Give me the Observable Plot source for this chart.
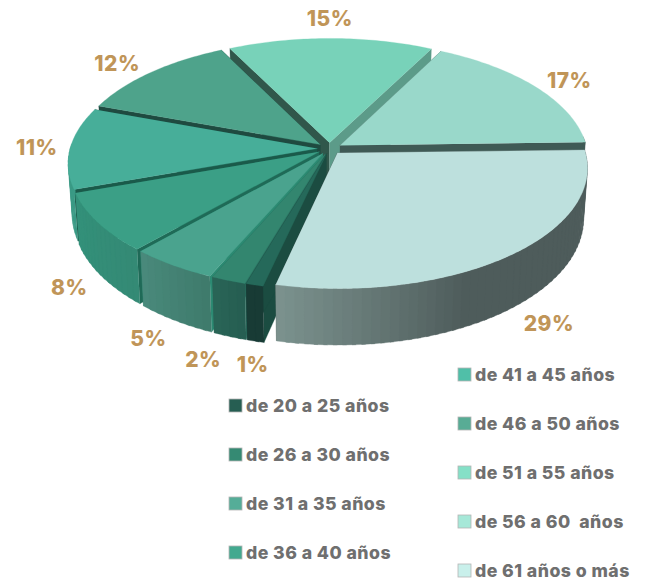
<!DOCTYPE html>
<html><head><meta charset="utf-8">
<script src="https://cdn.jsdelivr.net/npm/d3@7"></script>
<script src="https://cdn.jsdelivr.net/npm/@observablehq/plot@0.6"></script>
<style>html,body{margin:0;padding:0;background:#fff}svg{display:block}svg text{letter-spacing:.45px}</style>
</head><body><div id="chart"></div>
<script>
const ageGroups = ["de 20 a 25 años","de 26 a 30 años","de 31 a 35 años","de 36 a 40 años","de 41 a 45 años","de 46 a 50 años","de 51 a 55 años","de 56 a 60  años","de 61 años o más"];
const shares = [1,2,5,8,11,12,15,17,29];
const legendColors = ["#265e52","#358a73","#55ad98","#43a98f","#50bfa8","#58ac95","#85e0c7","#a6e8d8","#c9f0eb"];
const topColors = ["#25695a","#33866f","#4aa38e","#3b9f86","#47ae99","#4ea38b","#78d2b9","#99d8ca","#bde0dd"];
const cutColors = ["#1b4c41","#2a6e5e","#2c8a72","#1f6a57","#1a5a4a","#1f4a40","#30574b","#3f5a55","#4e5c5b"];
const wallLeft  = ["#183b35","#2a6657","#4a8b7d","#33917a","#3a9a85","#3a9a85","#3a9a85","#3f5a55","#7d9490"];
const wallRight = ["#183b35","#265e52","#3f7b6c","#348a75","#3a9a85","#3a9a85","#3a9a85","#3f5a55","#4e5c5b"];

// layout of the tilted pie
const W = 651, H = 582, cx = 329, cy = 148, Rx = 247, Ry = 118, persp = 0.12, depth = 49.5, explode = 0.05, startDeg = -1.5;
const rad = Math.PI / 180;
function top3d(X, Y) { const w = 1 / (1 - persp * Y); return [cx + Rx * X * w, cy + Ry * Y * w, w]; }
function bot3d(X, Y) { const [x, y, w] = top3d(X, Y); return [cx + (x - cx) * 0.985, y + depth * w]; }

// slices run clockwise from the largest group, then youngest to oldest
const walk = [8,0,1,2,3,4,5,6,7];
const total = d3.sum(shares);
let a = startDeg;
const geom = {};
for (const i of walk) {
  const a0 = a, a1 = a + shares[i] / total * 360; a = a1;
  const mid = (a0 + a1) / 2;
  geom[i] = {a0, a1, mid, ox: explode * Math.cos(mid * rad), oy: explode * Math.sin(mid * rad)};
}
const rim = (g, deg) => [g.ox + Math.cos(deg * rad), g.oy + Math.sin(deg * rad)];

const polys = [];
let id = 0;
function poly(pts, color) { id++; for (const [x, y] of pts) polys.push({id, x, y, color}); }
const drawOrder = [6,5,7,4,3,2,1,0,8];
for (const i of drawOrder) {
  const g = geom[i];
  const ap = [g.ox, g.oy];
  const e0 = rim(g, g.a0), e1 = rim(g, g.a1);
  // cut walls
  poly([top3d(...ap), top3d(...e0), bot3d(...e0), bot3d(...ap)], cutColors[i]);
  poly([top3d(...ap), top3d(...e1), bot3d(...e1), bot3d(...ap)], i === 6 ? "#5c9b89" : cutColors[i]);
  // outer wall, shaded in narrow overlapping bands; the far side faces away
  const n = Math.max(1, Math.ceil((g.a1 - g.a0) / 2));
  const step = (g.a1 - g.a0) / n;
  const shade = d3.interpolateRgb(wallRight[i], wallLeft[i]);
  for (let k = n - 1; k >= 0; k--) {
    const d0 = g.a0 + step * k, d1 = g.a0 + step * (k + 1);
    if (Math.sin(d1 * rad) < -0.03 && Math.sin(d0 * rad) < -0.03) continue;
    const p0 = rim(g, Math.max(g.a0, d0 - step * 0.4)), p1 = rim(g, d1);
    const t = i === 8 ? Math.max(0, (d0 - 62) / (g.a1 - 62)) : k / n;
    poly([top3d(...p0), top3d(...p1), bot3d(...p1), bot3d(...p0)], d3.color(shade(t)).formatHex());
  }
  // top face
  const face = [top3d(...ap)];
  const m = Math.max(2, Math.ceil((g.a1 - g.a0)));
  for (let k = 0; k <= m; k++) face.push(top3d(...rim(g, g.a0 + (g.a1 - g.a0) * k / m)));
  poly(face, topColors[i]);
}

// percentage labels, placed outside the rim of their slice
const labelGap = 1.17;
const labelNudge = {0:[8,5],1:[-12,5],2:[-4,3],3:[0,3],4:[-4,0],5:[-15,0],6:[-1,-8],7:[12,1],8:[14,0]};
const labels = shares.map((v, i) => {
  const g = geom[i];
  const X = labelGap * Math.cos(g.mid * rad), Y = labelGap * Math.sin(g.mid * rad);
  const [x, y, w] = top3d(X, Y);
  const front = g.mid > 20 && g.mid < 170;
  return {text: v + "%", x: x + labelNudge[i][0], y: y + (front ? depth * w : 0) + labelNudge[i][1]};
});

// legend, two staggered columns
const legend = ageGroups.map((name, i) => {
  const left = i < 4;
  const row = left ? i : i - 4;
  const yc = (left ? 405.5 : 374.5) + row * 49;
  const x0 = left ? 229 : 458;
  return {name, color: legendColors[i], x1: x0, x2: x0 + 13, y1: yc - 6.5, y2: yc + 6.5, tx: x0 + 16.5, yc: yc + 0.5};
});

const fontFamily = "Inter, 'Open Sans', sans-serif";
const chart = Plot.plot({
  width: W, height: H, margin: 0,
  x: {domain: [0, W], range: [0, W], axis: null},
  y: {domain: [0, H], range: [0, H], axis: null},
  color: {type: "identity"},
  style: {background: "#fff", fontFamily},
  marks: [
    Plot.line(polys, {x: "x", y: "y", z: "id", fill: "color", stroke: "color", strokeWidth: 0.3, curve: "linear"}),
    Plot.text(labels, {x: "x", y: "y", text: "text", fill: "#c09558", fontSize: 21, fontWeight: 800, fontFamily}),
    Plot.rect(legend, {x1: "x1", x2: "x2", y1: "y1", y2: "y2", fill: "color", stroke: "#b5b5b5", strokeWidth: 0.8}),
    Plot.text(legend, {x: "tx", y: "yc", text: "name", textAnchor: "start", fill: "#6f6f6f", fontSize: 17.7, fontWeight: 800, fontFamily})
  ]
});
document.getElementById("chart").append(chart);
</script></body></html>
